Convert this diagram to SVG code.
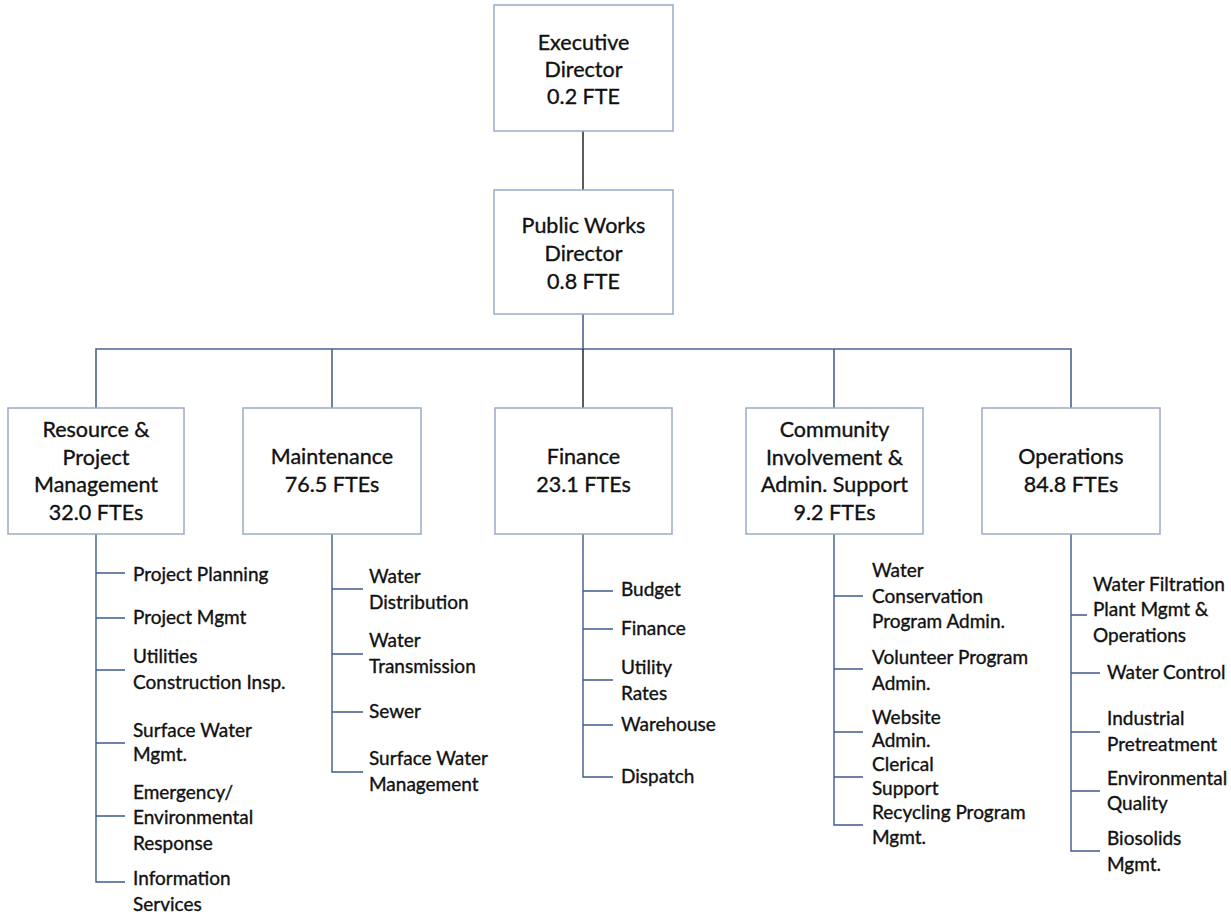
<svg xmlns="http://www.w3.org/2000/svg" width="1231" height="915" viewBox="0 0 1231 915">
<style>
.box{fill:#fff;stroke:#9aabc8;stroke-width:1.5}
.bt{font-family:Lato,"Liberation Sans",sans-serif;font-size:21.5px;fill:#111;stroke:#111;stroke-width:0.35;text-anchor:middle}
.st{font-family:Lato,"Liberation Sans",sans-serif;font-size:19px;fill:#111;stroke:#111;stroke-width:0.35}
.c{fill:none;stroke:#4a6394;stroke-width:1.6}
.d{fill:none;stroke:#333;stroke-width:1.6}
.s{fill:none;stroke:#3d5a8f;stroke-width:1.4}
</style>
<g id="connectors">
<path class="d" d="M583 131V190"/>
<path class="c" d="M583 314V349"/>
<path class="c" d="M96 408V349H1071V408"/>
<path class="c" d="M332 349V408"/>
<path class="d" d="M583 349V408"/>
<path class="c" d="M834 349V408"/>
<path class="s" d="M96 534V882H125M96 573H125M96 618H125M96 670H125M96 743H125M96 816H125"/>
<path class="s" d="M332 534V772H363M332 589H363M332 654H363M332 712H363"/>
<path class="s" d="M583 534V777H613M583 591H613M583 629H613M583 680H613M583 725H613"/>
<path class="s" d="M834 534V825H863M834 596H863M834 669H863M834 732H863M834 777H863"/>
<path class="s" d="M1071 534V851H1100M1071 615H1087M1071 673H1100M1071 732H1100M1071 791H1100"/>
</g>
<g id="exec">
<rect class="box" x="494" y="5" width="179" height="126"/>
<text class="bt" x="583.5" y="50">Executive</text>
<text class="bt" x="583.5" y="77">Director</text>
<text class="bt" x="583.5" y="104">0.2 FTE</text>
</g>
<g id="pwd">
<rect class="box" x="494" y="190" width="179" height="124"/>
<text class="bt" x="583.5" y="233">Public Works</text>
<text class="bt" x="583.5" y="261">Director</text>
<text class="bt" x="583.5" y="289">0.8 FTE</text>
</g>
<g id="rpm">
<rect class="box" x="8" y="408" width="176" height="126"/>
<text class="bt" x="96" y="437">Resource &amp;</text>
<text class="bt" x="96" y="465">Project</text>
<text class="bt" x="96" y="492">Management</text>
<text class="bt" x="96" y="520">32.0 FTEs</text>
<text class="st" x="133" y="581">Project Planning</text>
<text class="st" x="133" y="624">Project Mgmt</text>
<text class="st" x="133" y="663">Utilities</text>
<text class="st" x="133" y="689">Construction Insp.</text>
<text class="st" x="133" y="737">Surface Water</text>
<text class="st" x="133" y="761">Mgmt.</text>
<text class="st" x="133" y="799">Emergency/</text>
<text class="st" x="133" y="824">Environmental</text>
<text class="st" x="133" y="850">Response</text>
<text class="st" x="133" y="885">Information</text>
<text class="st" x="133" y="911">Services</text>
</g>
<g id="maint">
<rect class="box" x="243" y="408" width="178" height="126"/>
<text class="bt" x="332" y="464">Maintenance</text>
<text class="bt" x="332" y="492">76.5 FTEs</text>
<text class="st" x="369" y="583">Water</text>
<text class="st" x="369" y="609">Distribution</text>
<text class="st" x="369" y="647">Water</text>
<text class="st" x="369" y="673">Transmission</text>
<text class="st" x="369" y="718">Sewer</text>
<text class="st" x="369" y="765">Surface Water</text>
<text class="st" x="369" y="791">Management</text>
</g>
<g id="finance">
<rect class="box" x="495" y="408" width="177" height="126"/>
<text class="bt" x="583.5" y="464">Finance</text>
<text class="bt" x="583.5" y="492">23.1 FTEs</text>
<text class="st" x="621" y="596">Budget</text>
<text class="st" x="621" y="635">Finance</text>
<text class="st" x="621" y="674">Utility</text>
<text class="st" x="621" y="700">Rates</text>
<text class="st" x="621" y="731">Warehouse</text>
<text class="st" x="621" y="783">Dispatch</text>
</g>
<g id="community">
<rect class="box" x="746" y="408" width="177" height="126"/>
<text class="bt" x="834.5" y="437">Community</text>
<text class="bt" x="834.5" y="465">Involvement &amp;</text>
<text class="bt" x="834.5" y="492">Admin. Support</text>
<text class="bt" x="834.5" y="520">9.2 FTEs</text>
<text class="st" x="872" y="577">Water</text>
<text class="st" x="872" y="603">Conservation</text>
<text class="st" x="872" y="628">Program Admin.</text>
<text class="st" x="872" y="664">Volunteer Program</text>
<text class="st" x="872" y="690">Admin.</text>
<text class="st" x="872" y="724">Website</text>
<text class="st" x="872" y="747">Admin.</text>
<text class="st" x="872" y="771">Clerical</text>
<text class="st" x="872" y="795">Support</text>
<text class="st" x="872" y="819">Recycling Program</text>
<text class="st" x="872" y="844">Mgmt.</text>
</g>
<g id="operations">
<rect class="box" x="982" y="408" width="178" height="126"/>
<text class="bt" x="1071" y="464">Operations</text>
<text class="bt" x="1071" y="492">84.8 FTEs</text>
<text class="st" x="1093" y="591">Water Filtration</text>
<text class="st" x="1093" y="616">Plant Mgmt &amp;</text>
<text class="st" x="1093" y="642">Operations</text>
<text class="st" x="1107" y="679">Water Control</text>
<text class="st" x="1107" y="725">Industrial</text>
<text class="st" x="1107" y="751">Pretreatment</text>
<text class="st" x="1107" y="785">Environmental</text>
<text class="st" x="1107" y="810">Quality</text>
<text class="st" x="1107" y="845">Biosolids</text>
<text class="st" x="1107" y="871">Mgmt.</text>
</g>
</svg>
